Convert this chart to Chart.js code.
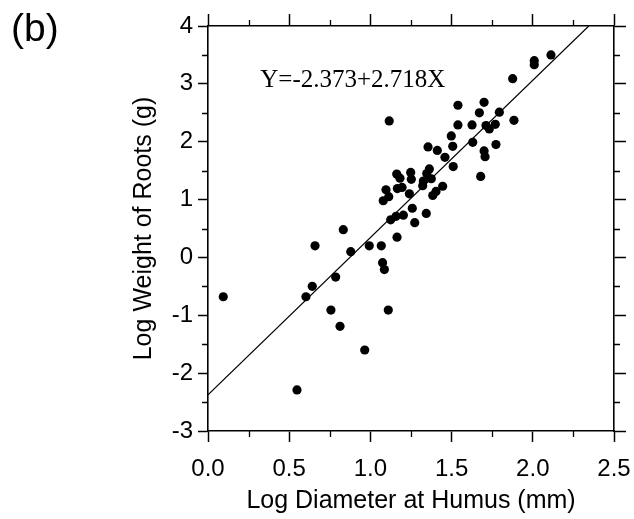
<!DOCTYPE html>
<html>
<head>
<meta charset="utf-8">
<script src="https://cdn.jsdelivr.net/npm/chart.js@4"></script>
<style>
  html, body { margin: 0; padding: 0; background: #ffffff; }
  #wrap { width: 634px; height: 519px; }
</style>
</head>
<body>
<div id="wrap"><canvas id="c" width="634" height="519"></canvas></div>
<script>
// ---- Data ----
const logDiameter = [
  2.112, 2.009, 2.009, 1.876, 1.539, 1.700, 1.671, 1.794, 1.116, 1.884,
  1.539, 1.626, 1.712, 1.769, 1.732, 1.498, 1.507, 1.630, 1.773, 1.355,
  1.412, 1.700, 1.706, 1.459, 1.510, 1.679, 1.363, 1.347, 1.162, 1.248,
  1.182, 1.252, 1.375, 1.326, 1.322, 1.445, 1.096, 1.166, 1.195, 1.240,
  1.404, 1.384, 1.113, 1.079, 1.258, 1.344, 1.125, 1.158, 1.203, 1.273,
  0.833, 1.164, 0.659, 0.879, 0.993, 1.067, 1.075, 1.086, 0.786, 0.642,
  0.603, 0.094, 0.757, 1.110, 0.813, 0.965, 0.548
];
const logRootWeight = [
  3.50, 3.40, 3.33, 3.09, 2.63, 2.68, 2.50, 2.51, 2.36, 2.37,
  2.29, 2.29, 2.28, 2.30, 2.22, 2.10, 1.92, 1.99, 1.95, 1.91,
  1.85, 1.84, 1.74, 1.73, 1.57, 1.40, 1.53, 1.45, 1.44, 1.47,
  1.37, 1.35, 1.36, 1.32, 1.24, 1.23, 1.17, 1.19, 1.21, 1.10,
  1.14, 1.07, 1.05, 0.98, 0.85, 0.76, 0.65, 0.71, 0.73, 0.60,
  0.48, 0.35, 0.20, 0.10, 0.20, 0.20, -0.09, -0.21, -0.34, -0.50,
  -0.68, -0.68, -0.91, -0.91, -1.19, -1.60, -2.29
];
const fitIntercept = -2.373;
const fitSlope = 2.718;
const equationText = 'Y=-2.373+2.718X';
const panelLabel = '(b)';
const xTitle = 'Log Diameter at Humus (mm)';
const yTitle = 'Log Weight of Roots (g)';
const xTickLabels = ['0.0', '0.5', '1.0', '1.5', '2.0', '2.5'];
const yTickLabels = ['-3', '-2', '-1', '0', '1', '2', '3', '4'];
const xRange = [0, 2.5];
const yRange = [-3, 4];

// ---- Build chart structures ----
const points = logDiameter.map((x, i) => ({ x: x, y: logRootWeight[i] }));
const lineEndX = (yRange[1] - fitIntercept) / fitSlope;
const fitLine = [
  { x: xRange[0], y: fitIntercept + fitSlope * xRange[0] },
  { x: lineEndX, y: fitIntercept + fitSlope * lineEndX }
];

const SANS = "'Liberation Sans', Arial, sans-serif";
const SERIF = "'Liberation Serif', 'Times New Roman', serif";

const extras = {
  id: 'extras',
  afterDraw(chart) {
    const ctx = chart.ctx;
    const xs = chart.scales.x, ys = chart.scales.y;
    const area = chart.chartArea;
    ctx.save();
    ctx.strokeStyle = '#000';
    ctx.lineWidth = 1.3;
    ctx.beginPath();
    // minor ticks on x (bottom and top)
    for (let v = 0.25; v < xRange[1]; v += 0.5) {
      const px = Math.round(xs.getPixelForValue(v)) + 0.5;
      ctx.moveTo(px, area.bottom); ctx.lineTo(px, area.bottom + 6);
      ctx.moveTo(px, area.top); ctx.lineTo(px, area.top - 6);
    }
    // minor ticks on y (left and right)
    for (let v = yRange[0] + 0.5; v < yRange[1]; v += 1) {
      const py = Math.round(ys.getPixelForValue(v)) + 0.5;
      ctx.moveTo(area.left, py); ctx.lineTo(area.left - 6, py);
      ctx.moveTo(area.right, py); ctx.lineTo(area.right + 6, py);
    }
    ctx.stroke();
    // equation text anchored in data coordinates
    ctx.fillStyle = '#000';
    ctx.font = '25px ' + SERIF;
    ctx.textAlign = 'left';
    ctx.textBaseline = 'alphabetic';
    ctx.fillText(equationText, xs.getPixelForValue(0.322), ys.getPixelForValue(2.95));
    // panel label
    ctx.font = '39px ' + SANS;
    ctx.fillText(panelLabel, 11, 41);
    ctx.restore();
  }
};

new Chart(document.getElementById('c'), {
  type: 'scatter',
  data: {
    datasets: [
      {
        label: 'Observed',
        data: points,
        backgroundColor: '#000',
        borderColor: '#000',
        borderWidth: 0,
        pointRadius: 4.6,
        pointHoverRadius: 4.6,
        xAxisID: 'x', yAxisID: 'y'
      },
      {
        label: 'Fit',
        type: 'line',
        data: fitLine,
        borderColor: '#000',
        borderWidth: 1.2,
        pointRadius: 0,
        fill: false,
        xAxisID: 'x', yAxisID: 'y'
      }
    ]
  },
  options: {
    responsive: false,
    animation: false,
    devicePixelRatio: 1,
    layout: { padding: 0 },
    plugins: { legend: { display: false }, tooltip: { enabled: false }, title: { display: false } },
    scales: {
      x: {
        type: 'linear', position: 'bottom', min: xRange[0], max: xRange[1],
        afterFit(s) { s.height = 88; },
        ticks: {
          stepSize: 0.5, color: '#000', padding: 2,
          font: { family: SANS, size: 24, lineHeight: 2.1 },
          callback: (v) => { const i = Math.round((v - xRange[0]) / 0.5); return xTickLabels[i]; }
        },
        grid: { drawOnChartArea: false, drawTicks: true, tickLength: 11, tickColor: '#000', tickWidth: 1.5 },
        border: { display: true, color: '#000', width: 1.6 },
        title: { display: true, text: xTitle, color: '#000', font: { family: SANS, size: 25 }, padding: { top: 0, bottom: 3 } }
      },
      x2: {
        type: 'linear', position: 'top', min: xRange[0], max: xRange[1],
        afterFit(s) { s.height = 26; },
        ticks: { display: false, stepSize: 0.5 },
        grid: { drawOnChartArea: false, drawTicks: true, tickLength: 12, tickColor: '#000', tickWidth: 1.5 },
        border: { display: true, color: '#000', width: 1.6 }
      },
      y: {
        type: 'linear', position: 'left', min: yRange[0], max: yRange[1],
        afterFit(s) { s.width = 208; },
        ticks: {
          stepSize: 1, color: '#000', padding: 5,
          font: { family: SANS, size: 24 },
          callback: (v) => { const i = Math.round(v - yRange[0]); return yTickLabels[i]; }
        },
        grid: { drawOnChartArea: false, drawTicks: true, tickLength: 10, tickColor: '#000', tickWidth: 1.5 },
        border: { display: true, color: '#000', width: 1.6 },
        title: { display: true, text: yTitle, color: '#000', font: { family: SANS, size: 25 }, padding: { top: 129, bottom: 0 } }
      },
      y2: {
        type: 'linear', position: 'right', min: yRange[0], max: yRange[1],
        afterFit(s) { s.width = 20; },
        ticks: { display: false, stepSize: 1 },
        grid: { drawOnChartArea: false, drawTicks: true, tickLength: 12, tickColor: '#000', tickWidth: 1.5 },
        border: { display: true, color: '#000', width: 1.6 }
      }
    }
  },
  plugins: [extras]
});
</script>
</body>
</html>
